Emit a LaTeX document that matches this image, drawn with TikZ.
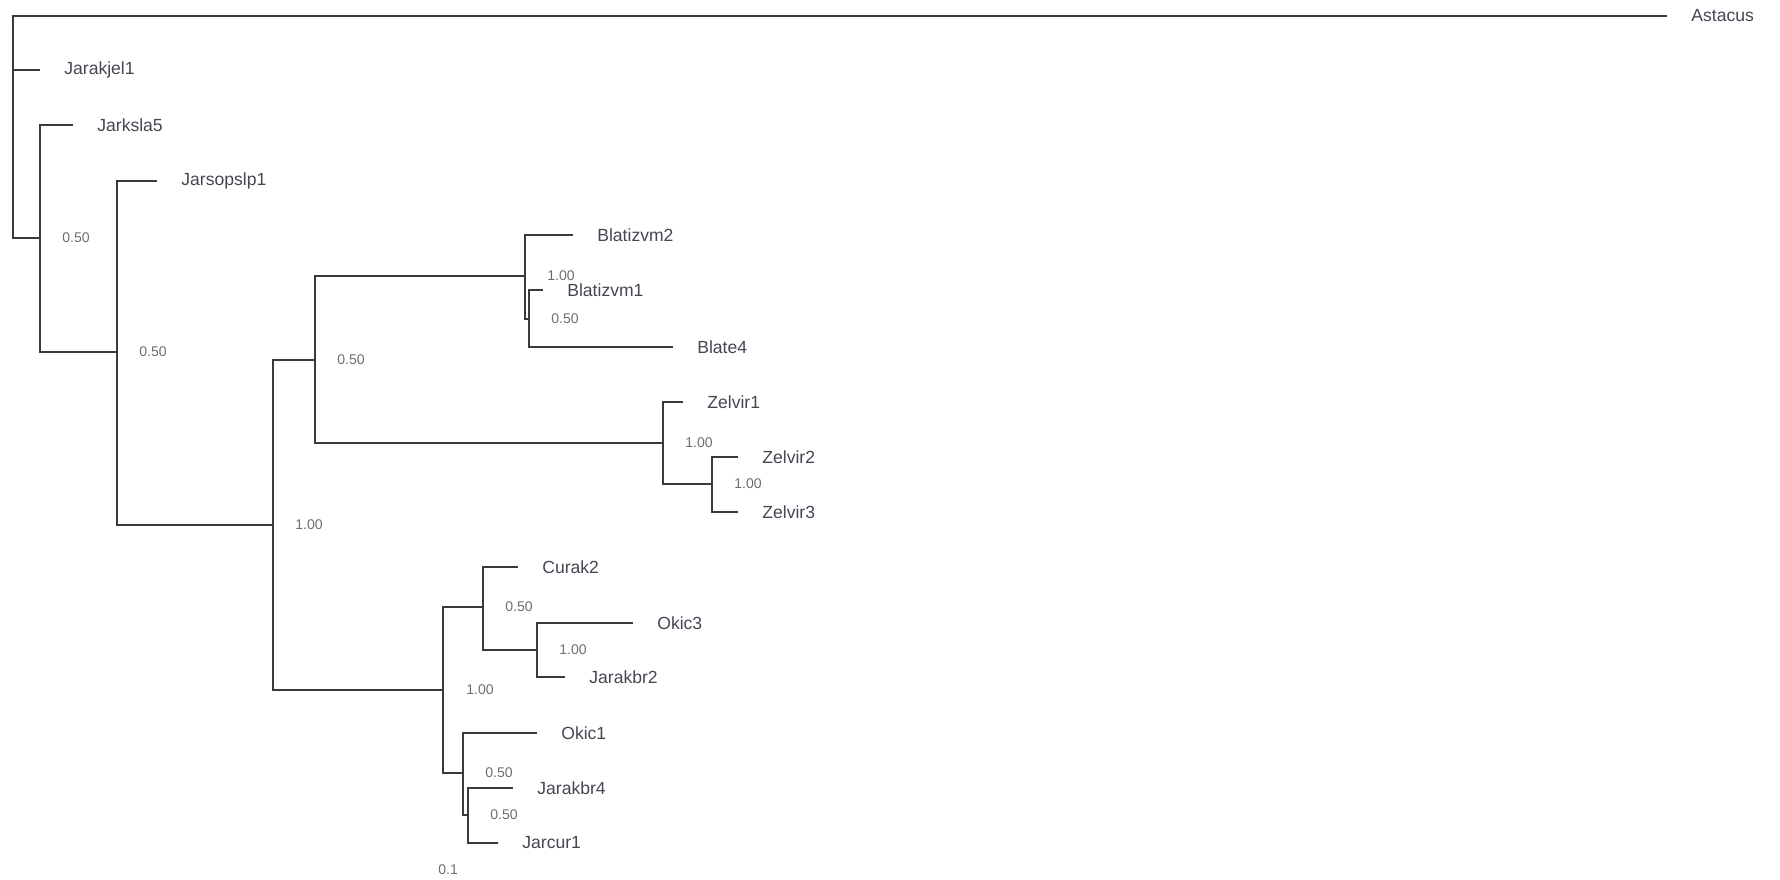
\documentclass[tikz,border=0pt]{standalone}
\usepackage{fontspec}
\setmainfont{Liberation Sans}
\usetikzlibrary{positioning}
\definecolor{branchgray}{HTML}{3A3A3A}
\definecolor{taxongray}{HTML}{4A4352}
\definecolor{supportgray}{HTML}{6E6E6E}

\begin{document}
\begin{tikzpicture}[x=0.02cm, y=-0.02cm,
  every node/.style={font=\fontsize{10}{12}\selectfont, text=taxongray, inner sep=0pt},
  branch/.style={draw=branchgray, line width=1.3pt},
  support/.style={font=\fontsize{8}{10}\selectfont, text=supportgray}]
  \useasboundingbox (0,0) rectangle (1780,879);

  \coordinate (r) at (13,70);
  \coordinate (n1) at (40,238);
  \coordinate (n2) at (117,352);
  \coordinate (n3) at (273,525);
  \coordinate (n4) at (315,360);
  \coordinate (n5) at (525,276);
  \coordinate (n6) at (529,319);
  \coordinate (n7) at (663,443);
  \coordinate (n8) at (712,484);
  \coordinate (n9) at (443,690);
  \coordinate (n10) at (483,607);
  \coordinate (n11) at (537,650);
  \coordinate (n12) at (463,773);
  \coordinate (n13) at (468,815);

  \coordinate (tAstacus) at (1667,16);
  \coordinate (tJarakjel1) at (40,70);
  \coordinate (tJarksla5) at (73,125);
  \coordinate (tJarsopslp1) at (157,181);
  \coordinate (tBlatizvm2) at (573,235);
  \coordinate (tBlatizvm1) at (543,290);
  \coordinate (tBlate4) at (673,347);
  \coordinate (tZelvir1) at (683,402);
  \coordinate (tZelvir2) at (738,457);
  \coordinate (tZelvir3) at (738,512);
  \coordinate (tCurak2) at (518,567);
  \coordinate (tOkic3) at (633,623);
  \coordinate (tJarakbr2) at (565,677);
  \coordinate (tOkic1) at (537,733);
  \coordinate (tJarakbr4) at (513,788);
  \coordinate (tJarcur1) at (498,843);

  \draw[branch] (tAstacus) -| (r) |- (n1);
  \draw[branch] (r) -- (tJarakjel1);
  \draw[branch] (tJarksla5) -| (n1) |- (n2);
  \draw[branch] (tJarsopslp1) -| (n2) |- (n3);
  \draw[branch] (n4) -| (n3) |- (n9);
  \draw[branch] (n5) -| (n4) |- (n7);
  \draw[branch] (tBlatizvm2) -| (n5) |- (n6);
  \draw[branch] (tBlatizvm1) -| (n6) |- (tBlate4);
  \draw[branch] (tZelvir1) -| (n7) |- (n8);
  \draw[branch] (tZelvir2) -| (n8) |- (tZelvir3);
  \draw[branch] (n10) -| (n9) |- (n12);
  \draw[branch] (tCurak2) -| (n10) |- (n11);
  \draw[branch] (tOkic3) -| (n11) |- (tJarakbr2);
  \draw[branch] (tOkic1) -| (n12) |- (n13);
  \draw[branch] (tJarakbr4) -| (n13) |- (tJarcur1);

  \node[right=0.48cm of tAstacus] (Astacus) {Astacus};
  \node[right=0.48cm of tJarakjel1] (Jarakjel1) {Jarakjel1};
  \node[right=0.48cm of tJarksla5] (Jarksla5) {Jarksla5};
  \node[right=0.48cm of tJarsopslp1] (Jarsopslp1) {Jarsopslp1};
  \node[right=0.48cm of tBlatizvm2] (Blatizvm2) {Blatizvm2};
  \node[right=0.48cm of tBlatizvm1] (Blatizvm1) {Blatizvm1};
  \node[right=0.48cm of tBlate4] (Blate4) {Blate4};
  \node[right=0.48cm of tZelvir1] (Zelvir1) {Zelvir1};
  \node[right=0.48cm of tZelvir2] (Zelvir2) {Zelvir2};
  \node[right=0.48cm of tZelvir3] (Zelvir3) {Zelvir3};
  \node[right=0.48cm of tCurak2] (Curak2) {Curak2};
  \node[right=0.48cm of tOkic3] (Okic3) {Okic3};
  \node[right=0.48cm of tJarakbr2] (Jarakbr2) {Jarakbr2};
  \node[right=0.48cm of tOkic1] (Okic1) {Okic1};
  \node[right=0.48cm of tJarakbr4] (Jarakbr4) {Jarakbr4};
  \node[right=0.48cm of tJarcur1] (Jarcur1) {Jarcur1};

  \node[support, right=0.44cm of n1] (s1) {0.50};
  \node[support, right=0.44cm of n2] (s2) {0.50};
  \node[support, right=0.44cm of n3] (s3) {1.00};
  \node[support, right=0.44cm of n4] (s4) {0.50};
  \node[support, right=0.44cm of n5] (s5) {1.00};
  \node[support, right=0.44cm of n6] (s6) {0.50};
  \node[support, right=0.44cm of n7] (s7) {1.00};
  \node[support, right=0.44cm of n8] (s8) {1.00};
  \node[support, right=0.46cm of n9] (s9) {1.00};
  \node[support, right=0.44cm of n10] (s10) {0.50};
  \node[support, right=0.44cm of n11] (s11) {1.00};
  \node[support, right=0.44cm of n12] (s12) {0.50};
  \node[support, right=0.44cm of n13] (s13) {0.50};
  \node[support, anchor=west] (scale) at (438,870) {0.1};
\end{tikzpicture}
\end{document}
